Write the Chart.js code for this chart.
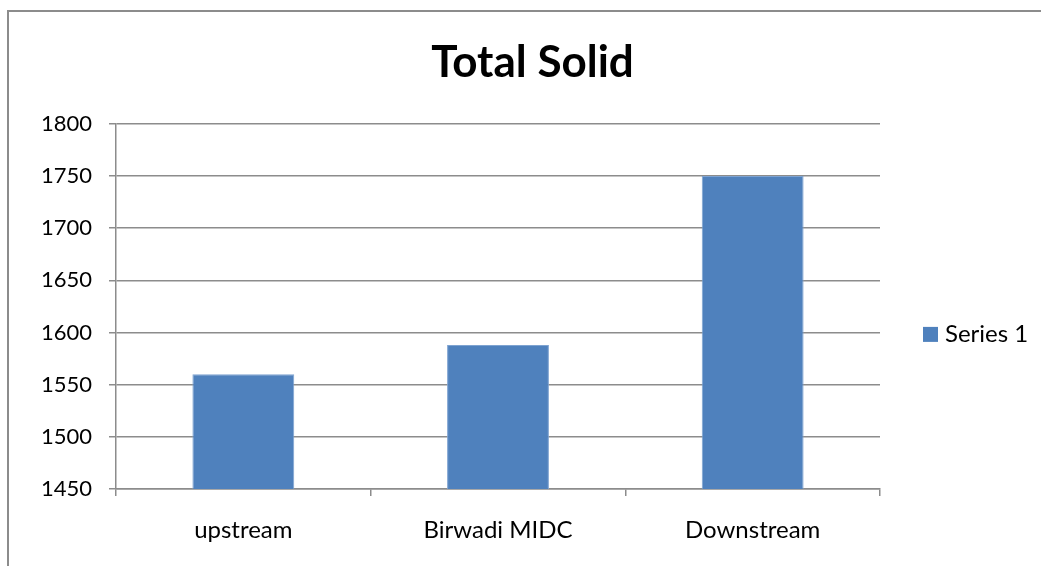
<!DOCTYPE html>
<html>
<head>
<meta charset="utf-8">
<script src="https://cdn.jsdelivr.net/npm/chart.js@4"></script>
<style>
  html, body { margin: 0; padding: 0; background: #fff; }
  #wrap { width: 1041px; height: 566px; }
</style>
</head>
<body>
<div id="wrap"><canvas id="chart-total-solid"></canvas></div>
<script>
var categories = ["upstream", "Birwadi MIDC", "Downstream"];
var seriesName = "Series 1";
var seriesValues = [1560, 1588, 1750];
var yTicks = [1450, 1500, 1550, 1600, 1650, 1700, 1750, 1800];

var barColor = "#4F81BD";
var fontFamily = "Lato, 'Open Sans', sans-serif";

// outer frame + hand drawn legend on the right
var framePlugin = {
    id: 'frame',
    beforeDraw: function (chart) {
        var ctx = chart.ctx;
        ctx.save();
        ctx.fillStyle = '#fff';
        ctx.fillRect(0, 0, chart.width, chart.height);
        ctx.strokeStyle = '#8c8c8c';
        ctx.lineWidth = 2;
        ctx.strokeRect(8, 11, 1200, 1000);
        ctx.restore();
    },
    afterDraw: function (chart) {
        var ctx = chart.ctx;
        var ds = chart.data.datasets[0];
        var midY = (chart.chartArea.top + chart.chartArea.bottom) / 2 + 28;
        ctx.save();
        ctx.fillStyle = ds.backgroundColor;
        ctx.fillRect(923, midY - 7.5, 15, 15);
        ctx.fillStyle = '#000';
        ctx.font = "24px " + fontFamily;
        ctx.textBaseline = 'middle';
        ctx.fillText(ds.label, 945, midY);
        ctx.restore();
    }
};

var ctx = document.getElementById("chart-total-solid").getContext("2d");
var chart = new Chart(ctx, {
    type: "bar",
    data: {
        labels: categories,
        datasets: [{
            label: seriesName,
            data: seriesValues,
            backgroundColor: barColor,
            borderColor: "#7ea3d1",
            borderWidth: 1,
            barPercentage: 0.8,
            categoryPercentage: 0.5
        }]
    },
    options: {
        responsive: true,
        maintainAspectRatio: false,
        animation: false,
        devicePixelRatio: 1,
        layout: {
            padding: { left: 24, right: 0, top: 0, bottom: 0 }
        },
        plugins: {
            legend: { display: false },
            tooltip: { enabled: false },
            title: {
                display: true,
                text: "Total Solid",
                color: "#000",
                font: { size: 44, weight: 'bold', family: fontFamily, lineHeight: 1.2 },
                padding: { top: 36, bottom: 35 }
            }
        },
        scales: {
            y: {
                min: 1450,
                max: 1800,
                afterFit: function (scale) { scale.width = 92; },
                afterBuildTicks: function (scale) {
                    scale.ticks = yTicks.map(function (v) { return { value: v }; });
                },
                grid: {
                    color: '#8c8c8c',
                    lineWidth: 1.5,
                    drawTicks: true,
                    tickLength: 7
                },
                border: { color: '#8c8c8c', width: 1.5 },
                ticks: {
                    color: '#000',
                    padding: 17,
                    font: { size: 22, family: fontFamily },
                    callback: function (value) { return String(value); }
                }
            },
            // empty right axis, only keeps room for the legend
            legendSpace: {
                position: 'right',
                min: 0,
                max: 1,
                afterFit: function (scale) { scale.width = 161; },
                grid: { display: false },
                border: { display: false },
                ticks: { display: false }
            },
            x: {
                afterFit: function (scale) { scale.height = 77; },
                grid: {
                    offset: true,
                    drawOnChartArea: false,
                    drawTicks: true,
                    tickLength: 7,
                    color: '#8c8c8c',
                    lineWidth: 1.5
                },
                border: { color: '#8c8c8c', width: 1.5 },
                ticks: {
                    color: '#000',
                    padding: 20,
                    font: { size: 24, family: fontFamily }
                }
            }
        }
    },
    plugins: [framePlugin]
});
</script>
</body>
</html>
